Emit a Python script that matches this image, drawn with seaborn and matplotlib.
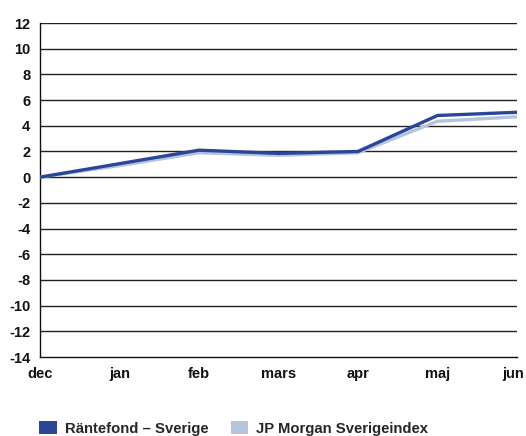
import matplotlib
matplotlib.use("Agg")
import matplotlib.pyplot as plt
import matplotlib.transforms as mtransforms
import seaborn as sns
import pandas as pd
from matplotlib.patches import Patch

months = ["dec", "jan", "feb", "mars", "apr", "maj", "jun"]
rantefond = [0.0, 1.05, 2.1, 1.85, 2.0, 4.8, 5.05]
jpmorgan = [0.0, 0.9, 1.9, 1.7, 1.9, 4.35, 4.7]
series_names = ["Räntefond – Sverige", "JP Morgan Sverigeindex"]
yticks = list(range(-14, 13, 2))

dark = "#2B4699"
light = "#B3C4DB"

sns.set_theme(style="white")
plt.rcParams['font.family'] = ['Liberation Sans', 'DejaVu Sans']

df = pd.DataFrame({
    "pos": list(range(len(months))) * 2,
    "value": rantefond + jpmorgan,
    "series": [series_names[0]] * len(months) + [series_names[1]] * len(months),
})

fig = plt.figure(figsize=(5.26, 4.36), dpi=100)
ax = fig.add_axes([40 / 526, 1 - 357 / 436, 477 / 526, 334 / 436])

for y in yticks[1:]:
    ax.axhline(y, color="#222222", lw=1.0, zorder=1)

sns.lineplot(data=df, x="pos", y="value", hue="series",
             palette={series_names[0]: dark, series_names[1]: light},
             hue_order=[series_names[1], series_names[0]],
             linewidth=2.4, ax=ax, legend=False, zorder=3)

ax.set_xlim(0, len(months) - 1)
ax.set_ylim(-14, 12)
ax.set_yticks(yticks)
ax.set_yticklabels([str(v) for v in yticks], fontsize=10.5, fontweight="bold")
ax.set_xticks(range(len(months)))
ax.set_xticklabels(months, fontsize=10.5, fontweight="bold")
ax.set_xlabel("")
ax.set_ylabel("")

for s in ["top", "right"]:
    ax.spines[s].set_visible(False)
for s in ["left", "bottom"]:
    ax.spines[s].set_visible(True)
    ax.spines[s].set_color("#111111")
    ax.spines[s].set_linewidth(1.0)

ax.tick_params(axis="x", direction="in", length=6, width=1, color="#111111", pad=7)
ax.tick_params(axis="y", length=0, pad=7)
ax.tick_params(axis="both", labelcolor="#111111")

# keep last x label inside the figure
last = ax.get_xticklabels()[-1]
last.set_transform(last.get_transform() + mtransforms.ScaledTranslation(-4 / 100, 0, fig.dpi_scale_trans))

handles = [Patch(facecolor=dark, edgecolor="none"), Patch(facecolor=light, edgecolor="none")]
fig.legend(handles, series_names, loc="lower left", bbox_to_anchor=(26 / 526, -0.03),
           ncol=2, frameon=False, handlelength=1.2, handleheight=1.0,
           handletextpad=0.5, columnspacing=1.5,
           prop={"size": 10.7, "weight": "bold"})

fig.savefig("out.png", dpi=100)
